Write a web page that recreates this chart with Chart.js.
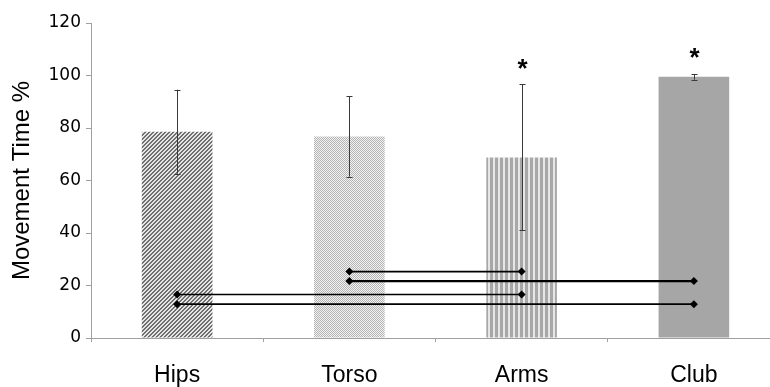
<!DOCTYPE html>
<html>
<head>
<meta charset="utf-8">
<script src="https://cdn.jsdelivr.net/npm/chart.js@4"></script>
<style>
  html, body { margin: 0; padding: 0; background: #fff; overflow: hidden; }
  canvas { display: block; }
</style>
</head>
<body>
<canvas id="chart" width="784" height="387"></canvas>
<script>
// Segment share of total movement time (mean and SD, %)
const categories = ['Hips', 'Torso', 'Arms', 'Club'];
const meanTime = [78.6, 76.8, 68.8, 99.5];
const sdTime = [16.0, 15.3, 27.8, 1.1];
const significant = [false, false, true, true];
const yTicks = [0, 20, 40, 60, 80, 100, 120];

// Pairwise differences: segment pair and level of the connecting line
const pairFrom = ['Torso', 'Torso', 'Hips', 'Hips'];
const pairTo = ['Arms', 'Club', 'Arms', 'Club'];
const pairLevel = [25.3, 21.7, 16.6, 12.9];

// Fill patterns for the bars
function makePattern(w, h, paint) {
  const c = document.createElement('canvas');
  c.width = w; c.height = h;
  const g = c.getContext('2d');
  paint(g);
  return g.createPattern(c, 'repeat');
}
const hatchDiag = makePattern(4, 4, g => {
  g.fillStyle = '#e6e6e6'; g.fillRect(0, 0, 4, 4);
  g.fillStyle = '#6e6e6e';
  for (let x = 0; x < 4; x++) for (let y = 0; y < 4; y++) {
    if ((x + y) % 4 === 0 || (x + y) % 4 === 1) g.fillRect(x, y, 1, 1);
  }
});
const hatchDots = makePattern(2, 2, g => {
  g.fillStyle = '#f2f2f2'; g.fillRect(0, 0, 2, 2);
  g.fillStyle = '#b4b4b4'; g.fillRect(0, 0, 1, 1); g.fillRect(1, 1, 1, 1);
});
const hatchVert = makePattern(5, 1, g => {
  g.fillStyle = '#e6e6e6'; g.fillRect(0, 0, 5, 1);
  g.fillStyle = '#a8a8a8'; g.fillRect(0, 0, 3, 1);
});
const barFills = [hatchDiag, hatchDots, hatchVert, '#a6a6a6'];

// Error bars and significance markers
const errorBarPlugin = {
  id: 'errorBars',
  afterDatasetsDraw(chart) {
    const { ctx, scales: { x, y } } = chart;
    ctx.save();
    ctx.strokeStyle = '#3a3a3a';
    ctx.lineWidth = 1;
    categories.forEach((cat, i) => {
      const px = Math.round(x.getPixelForValue(i)) + 0.5;
      const top = y.getPixelForValue(meanTime[i] + sdTime[i]);
      const bot = y.getPixelForValue(meanTime[i] - sdTime[i]);
      ctx.beginPath();
      ctx.moveTo(px, top); ctx.lineTo(px, bot);
      ctx.moveTo(px - 3, Math.round(top) + 0.5); ctx.lineTo(px + 3, Math.round(top) + 0.5);
      ctx.moveTo(px - 3, Math.round(bot) + 0.5); ctx.lineTo(px + 3, Math.round(bot) + 0.5);
      ctx.stroke();
      if (significant[i]) {
        ctx.fillStyle = '#000';
        ctx.font = 'bold 26px "Liberation Sans", Arial, sans-serif';
        ctx.textAlign = 'center';
        ctx.textBaseline = 'alphabetic';
        ctx.fillText('*', px, top - 23 + 0.58 * 26);
      }
    });
    ctx.restore();
  }
};

const pairDatasets = pairLevel.map((lvl, i) => ({
  type: 'line',
  data: [{ x: pairFrom[i], y: lvl }, { x: pairTo[i], y: lvl }],
  borderColor: '#000',
  borderWidth: i === 1 ? 2.2 : 1.6,
  pointStyle: 'rectRot',
  pointRadius: 4,
  pointBackgroundColor: '#000',
  pointBorderColor: '#000',
  pointBorderWidth: 0,
  fill: false,
  order: 0
}));

new Chart(document.getElementById('chart'), {
  type: 'bar',
  data: {
    labels: categories,
    datasets: [{
      data: meanTime,
      backgroundColor: barFills,
      borderWidth: 0,
      categoryPercentage: 1,
      barPercentage: 0.41,
      order: 1
    }, ...pairDatasets]
  },
  options: {
    responsive: false,
    animation: false,
    devicePixelRatio: 1,
    layout: { padding: { top: 23, right: 1, left: 0, bottom: 0 } },
    plugins: { legend: { display: false }, tooltip: { enabled: false } },
    scales: {
      x: {
        type: 'category',
        offset: true,
        grid: { offset: true, drawOnChartArea: false, drawTicks: true, tickLength: 4, color: '#a0a0a0' },
        border: { color: '#a0a0a0', width: 1 },
        ticks: { color: '#000', font: { family: '"Liberation Sans", Arial, sans-serif', size: 23 }, padding: 20, maxRotation: 0 },
        afterFit: s => { s.height = 49; }
      },
      y: {
        min: 0,
        max: 120,
        afterBuildTicks: s => { s.ticks = yTicks.map(v => ({ value: v })); },
        grid: { drawOnChartArea: false, drawTicks: true, tickLength: 5, color: '#a0a0a0' },
        border: { color: '#a0a0a0', width: 1 },
        ticks: { color: '#000', font: { family: '"DejaVu Sans", Verdana, sans-serif', size: 17 }, padding: 5 },
        title: {
          display: true,
          text: 'Movement Time %',
          color: '#000',
          font: { family: '"Liberation Sans", Arial, sans-serif', size: 24 },
          padding: { top: 8, bottom: 0 }
        },
        afterFit: s => { s.width = 91; }
      }
    }
  },
  plugins: [errorBarPlugin]
});
</script>
</body>
</html>
